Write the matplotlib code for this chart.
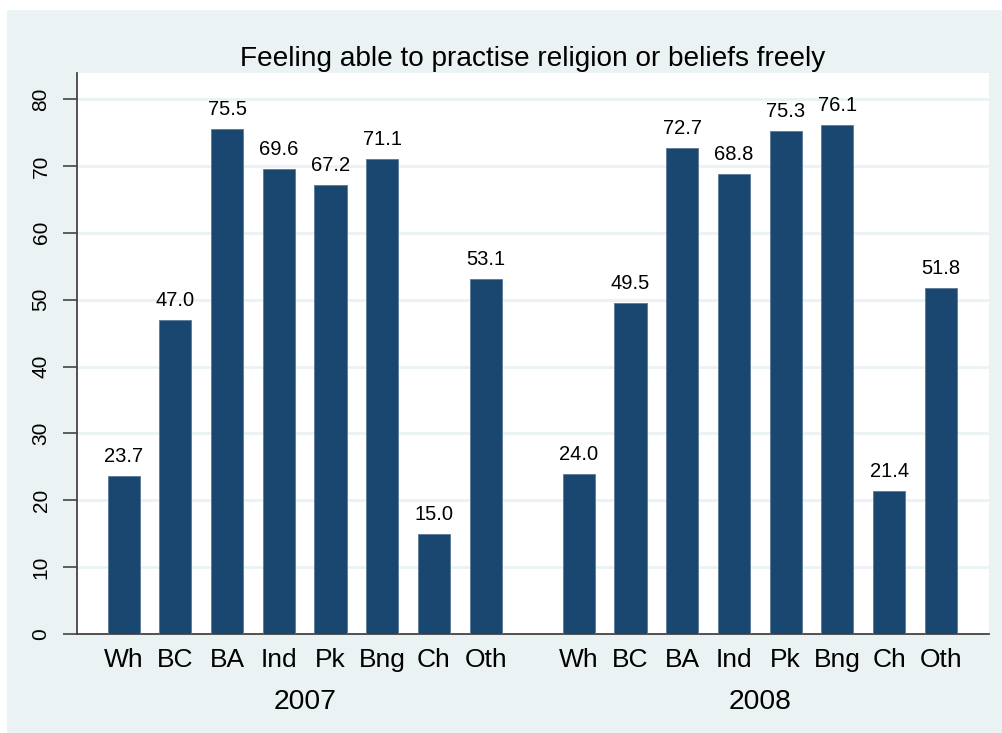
import numpy as np
import matplotlib
matplotlib.use('Agg')
from matplotlib import pyplot as plt
from matplotlib.patches import Rectangle

# data
groups = ['Wh', 'BC', 'BA', 'Ind', 'Pk', 'Bng', 'Ch', 'Oth']
years = ['2007', '2008']
vals_2007 = [23.7, 47.0, 75.5, 69.6, 67.2, 71.1, 15.0, 53.1]
vals_2008 = [24.0, 49.5, 72.7, 68.8, 75.3, 76.1, 21.4, 51.8]
title = 'Feeling able to practise religion or beliefs freely'

navy = '#1a476f'
bg = '#eaf2f3'

plt.rcParams['font.family'] = ['Liberation Sans', 'DejaVu Sans']

fig = plt.figure(figsize=(10.03, 7.33), dpi=100)
fig.patch.set_facecolor('white')
# light graph region behind the plot
fig.add_artist(Rectangle((7 / 1003, 0), 1 - 7 / 1003, 1 - 10 / 733,
                         transform=fig.transFigure, facecolor=bg,
                         edgecolor='none', zorder=-10))

ax = fig.add_axes([77 / 1003, 99 / 733, (989 - 77) / 1003, (634 - 73) / 733])
ax.set_facecolor('white')

n = len(groups)
gap = 1.8
x07 = np.arange(n)
x08 = np.arange(n) + n - 1 + gap
w = 0.62

for xs, vs in [(x07, vals_2007), (x08, vals_2008)]:
    bars = ax.bar(xs, vs, width=w, color=navy, edgecolor='#5a7a98',
                  linewidth=0.6, zorder=3)
    for b, v in zip(bars, vs):
        ax.annotate('%.1f' % v, (b.get_x() + b.get_width() / 2, v),
                    xytext=(0, 7), textcoords='offset points',
                    ha='center', va='bottom', fontsize=14.5)

ax.set_xlim(-0.9, x08[-1] + 0.93)
ax.set_ylim(0, 83.9)
ax.set_yticks(range(0, 81, 10))
ax.set_yticklabels([str(t) for t in range(0, 81, 10)], rotation=90,
                   va='center', fontsize=15)
ax.tick_params(axis='y', length=10, width=1.2, color='#444444', pad=9)
ax.grid(axis='y', color=bg, linewidth=2, zorder=1)
ax.set_axisbelow(True)

ax.set_xticks(list(x07) + list(x08))
ax.set_xticklabels(groups + groups, fontsize=19)
ax.tick_params(axis='x', length=0, pad=10)

for s in ['top', 'right']:
    ax.spines[s].set_visible(False)
for s in ['left', 'bottom']:
    ax.spines[s].set_color('#444444')
    ax.spines[s].set_linewidth(1.3)

for xs, yr in [(x07, years[0]), (x08, years[1])]:
    ax.text(xs.mean(), -0.122, yr, transform=ax.get_xaxis_transform(),
            ha='center', va='center', fontsize=20.3)

ax.set_title(title, fontsize=20.2, pad=5)

fig.savefig('out.png', dpi=100, facecolor=fig.get_facecolor())
